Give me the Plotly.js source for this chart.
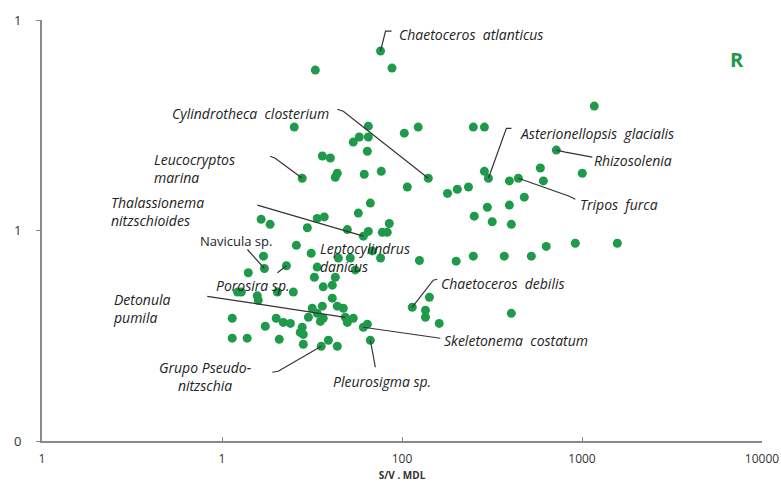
<!DOCTYPE html>
<html><head><meta charset="utf-8">
<script src="https://cdn.plot.ly/plotly-3.0.1.min.js"></script>
<style>html,body{margin:0;padding:0;background:#fff}</style>
</head><body><div id="chart" style="width:781px;height:487px"></div>
<script>
// S/V values (x) and MDL values (y)
const svValues = [76,33,88,1170,25.2,65,123,103,249,287,
  57.9,65,53.6,64.2,36.1,40,720,27.9,43.7,42.6,
  61.7,76.7,107,140,287,302,395,443,587,610,
  1004,179,203,234,478,66.7,298,395,57.2,33.8,
  37,16.5,18.5,252,317,405,29.8,49.7,61,65,
  85,77.7,82.8,633,918,1571,25.9,31.3,17.0,17.2,
  22.8,33.8,44.3,51.6,68.4,76,55,125,200,249,
  370,523,14.0,32.6,42.6,41,36.5,12.2,12.8,15.7,
  15.9,20.3,24.9,41,31.7,36.1,43.7,47.2,30.2,33.8,
  36.5,35.2,48.4,53.6,49.7,61,64.2,11.4,17.4,20,
  21.9,24,27.9,27.2,28.3,11.4,13.8,20.8,28.3,35.6,
  39,43.7,66.7,114,142,135,135,161,405];
const mdlValues = [7.12,5.78,5.91,3.90,3.10,3.13,3.10,2.90,3.10,3.10,
  2.78,2.78,2.63,2.38,2.26,2.21,2.41,1.77,1.87,1.79,
  1.85,1.91,1.61,1.77,1.91,1.77,1.72,1.77,1.98,1.72,
  1.87,1.50,1.57,1.61,1.44,1.35,1.29,1.32,1.21,1.14,
  1.16,1.13,1.07,1.17,1.10,1.07,1.03,1.01,0.94,0.99,
  1.08,0.98,0.98,0.84,0.87,0.87,0.85,0.78,0.755,0.66,
  0.68,0.67,0.74,0.74,0.80,0.74,0.65,0.72,0.715,0.755,
  0.755,0.755,0.63,0.60,0.60,0.55,0.54,0.51,0.51,0.49,
  0.466,0.51,0.51,0.477,0.427,0.437,0.437,0.427,0.387,0.404,
  0.383,0.37,0.387,0.383,0.366,0.347,0.359,0.383,0.351,0.383,
  0.366,0.362,0.347,0.328,0.321,0.308,0.308,0.304,0.288,0.282,
  0.301,0.282,0.301,0.432,0.482,0.418,0.387,0.362,0.404];

const xTickValues = [1,10,100,1000,10000];
const xTickLabels = ['1','1','100','1000','10000'];
const yTickValues = [0.1,1,10];
const yTickLabels = ['0','1','1'];

const speciesNames = ['<i>Chaetoceros  atlanticus</i>','<i>Cylindrotheca  closterium</i>',
  '<i>Leucocryptos</i><br><i>marina</i>','<i>Thalassionema</i><br><i>nitzschioides</i>',
  'Navicula sp.','<i>Leptocylindrus</i><br><i>danicus</i>','<i>Porosira sp.</i>',
  '<i>Detonula</i><br><i>pumila</i>','<i>Skeletonema  costatum</i>','<i>Chaetoceros  debilis</i>',
  '<i>Grupo Pseudo-</i><br><i>nitzschia</i>','<i>Pleurosigma sp.</i>',
  '<i>Asterionellopsis  glacialis</i>','<i>Rhizosolenia</i>','<i>Tripos  furca</i>'];
const speciesPoint = [0,23,17,48,59,null,60,92,95,113,109,112,25,16,27];

// label placement (pixels in the 781x487 frame) and leader offsets (pixels from the point)
const labelPos = [
  {x:397,y:34,a:'left',al:'left',lead:[[5,-20],[11,-20]]},
  {x:331,y:114,a:'right',al:'left',lead:[[-85,-67],[-91,-69]]},
  {x:152,y:169,a:'left',al:'left',lead:[[-27,-20],[-32,-22]]},
  {x:109,y:212,a:'left',al:'left',lead:[[-106,-31]]},
  {x:198,y:241,a:'left',al:'left',lead:[[-17,-19]],fs:13},
  {x:318,y:257,a:'left',al:'left',lead:null},
  {x:214,y:285,a:'left',al:'left',lead:[[-9,7]]},
  {x:111,y:308,a:'left',al:'left',lead:[[-138,-21]]},
  {x:442,y:340,a:'left',al:'left',lead:[[70,10],[77,11]]},
  {x:439,y:283,a:'left',al:'left',lead:[[21,-27],[25,-28]]},
  {x:205,y:376,a:'center',al:'center',lead:[[-43,25],[-49,26]]},
  {x:331,y:381,a:'left',al:'left',lead:[[5,27]]},
  {x:518,y:133,a:'left',al:'left',lead:[[18,-50],[23,-50]]},
  {x:592,y:160,a:'left',al:'left',lead:[[9,2],[36,7]]},
  {x:578,y:204,a:'left',al:'left',lead:[[51,18],[57,21]]}
];

const W = 781, H = 487, L = 42, R = 19, T = 20, B = 46;
const pw = W - L - R, ph = H - T - B;
const green = '#1f9a4a';
const fontFam = 'Open Sans, DejaVu Sans, sans-serif';

const annotations = [];
const shapes = [];
speciesNames.forEach((name, i) => {
  const p = labelPos[i];
  annotations.push({
    text: name, xref: 'paper', yref: 'paper',
    x: (p.x - L) / pw, y: (H - B - p.y) / ph,
    xanchor: p.a, yanchor: 'middle', align: p.al, showarrow: false,
    font: {family: fontFam, size: p.fs || 14, color: '#222'}
  });
  const k = speciesPoint[i];
  if (k !== null && p.lead) {
    let path = 'M0,0';
    p.lead.forEach(d => { path += ' L' + d[0] + ',' + (-d[1]); });
    shapes.push({
      type: 'path', xref: 'x', yref: 'y',
      xsizemode: 'pixel', ysizemode: 'pixel',
      xanchor: svValues[k], yanchor: mdlValues[k],
      path: path, line: {color: '#333', width: 1.2}
    });
  }
});
annotations.push({
  text: '<b>R</b>', xref: 'paper', yref: 'paper',
  x: (737 - L) / pw, y: (H - B - 60) / ph, xanchor: 'center', yanchor: 'middle',
  showarrow: false, font: {family: fontFam, size: 20, color: green}
});

const trace = {
  x: svValues, y: mdlValues, type: 'scatter', mode: 'markers',
  marker: {color: green, size: 9, line: {width: 0}},
  cliponaxis: false, hoverinfo: 'x+y'
};

const axisLine = '#8a8a8a';
const layout = {
  width: W, height: H,
  margin: {l: L, r: R, t: T, b: B},
  paper_bgcolor: '#fff', plot_bgcolor: '#fff',
  showlegend: false,
  xaxis: {
    type: 'log', range: [0, 4], tickvals: xTickValues, ticktext: xTickLabels,
    showline: true, linecolor: axisLine, linewidth: 2, showgrid: false, zeroline: false,
    ticks: 'inside', ticklen: 4, tickcolor: axisLine, tickwidth: 1,
    ticklabelstandoff: 6,
    tickfont: {family: fontFam, size: 12, color: '#333'},
    title: {text: '<b>S/V . MDL</b>', standoff: 6,
      font: {family: fontFam, size: 10, color: '#333'}},
    automargin: false, fixedrange: true
  },
  yaxis: {
    type: 'log', range: [-1, 1], tickvals: yTickValues, ticktext: yTickLabels,
    showline: true, linecolor: axisLine, linewidth: 2, showgrid: false, zeroline: false,
    ticks: 'outside', ticklen: 4, tickcolor: axisLine, tickwidth: 1,
    ticklabelstandoff: 12,
    tickfont: {family: fontFam, size: 13, color: '#333'},
    automargin: false, fixedrange: true
  },
  annotations: annotations,
  shapes: shapes
};

Plotly.newPlot('chart', [trace], layout, {displayModeBar: false, staticPlot: true});
</script>
</body></html>
